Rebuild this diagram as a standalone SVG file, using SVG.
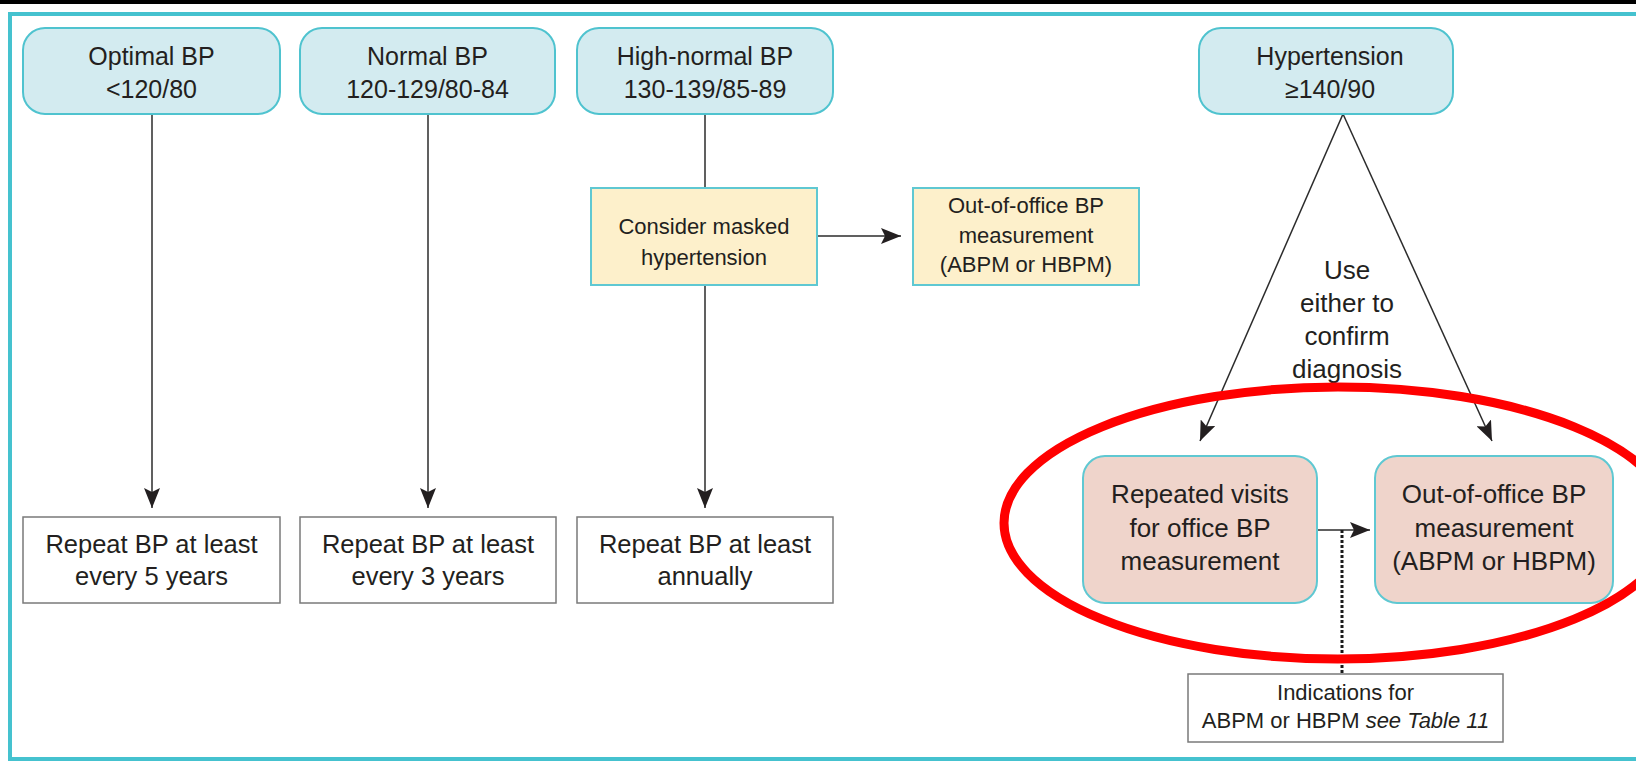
<svg xmlns="http://www.w3.org/2000/svg" width="1636" height="761" viewBox="0 0 1636 761">
<defs>
<style>
.t{font-family:"Liberation Sans",Arial,sans-serif;font-size:25px;fill:#231f20;text-anchor:middle}
.b{font-size:25.5px}
.p{font-size:26px}
.s{font-size:22px}
.xs{font-size:22px}
.blue{fill:#d3ebf0;stroke:#4fc3cf;stroke-width:2}
.yel{fill:#fdf0cb;stroke:#5fc8d2;stroke-width:2}
.pink{fill:#efd4cb;stroke:#5fc8d2;stroke-width:2}
.plain{fill:#ffffff;stroke:#7a7a7a;stroke-width:1.5}
.ln{stroke:#2b2b2b;stroke-width:1.5;fill:none}
</style>
<marker id="ah" viewBox="0 0 20 16" refX="20" refY="8" markerWidth="20" markerHeight="16" markerUnits="userSpaceOnUse" orient="auto">
<path d="M0,0 L20,8 L0,16 L4,8 Z" fill="#231f20"/>
</marker>
</defs>
<rect width="1636" height="761" fill="#ffffff"/>
<rect x="0" y="0" width="1636" height="4" fill="#000000"/>
<rect x="10" y="14" width="1700" height="745" fill="none" stroke="#45c2cf" stroke-width="4"/>

<g id="connectors">
<line class="ln" x1="152" y1="114" x2="152" y2="508" marker-end="url(#ah)"/>
<line class="ln" x1="428" y1="114" x2="428" y2="508" marker-end="url(#ah)"/>
<line class="ln" x1="705" y1="114" x2="705" y2="188"/>
<line class="ln" x1="705" y1="285" x2="705" y2="508" marker-end="url(#ah)"/>
<line class="ln" x1="817" y1="236" x2="901" y2="236" marker-end="url(#ah)"/>
<line class="ln" x1="1343" y1="114" x2="1200" y2="441" marker-end="url(#ah)"/>
<line class="ln" x1="1343" y1="114" x2="1492" y2="441" marker-end="url(#ah)"/>
<line class="ln" x1="1317" y1="530" x2="1370" y2="530" marker-end="url(#ah)"/>
<line x1="1342" y1="530" x2="1342" y2="674" stroke="#1a1a1a" stroke-width="3" stroke-dasharray="3 2"/>
</g>

<g id="n-optimal">
<rect class="blue" x="23" y="28" width="257" height="86" rx="22"/>
<text class="t" x="151.5" y="65">Optimal BP</text>
<text class="t" x="151.5" y="98">&lt;120/80</text>
</g>
<g id="n-normal">
<rect class="blue" x="300" y="28" width="255" height="86" rx="22"/>
<text class="t" x="427.5" y="65">Normal BP</text>
<text class="t" x="427.5" y="98">120-129/80-84</text>
</g>
<g id="n-highnormal">
<rect class="blue" x="577" y="28" width="256" height="86" rx="22"/>
<text class="t" x="705" y="65">High-normal BP</text>
<text class="t" x="705" y="98">130-139/85-89</text>
</g>
<g id="n-hypertension">
<rect class="blue" x="1199" y="28" width="254" height="86" rx="22"/>
<text class="t" x="1330" y="65">Hypertension</text>
<text class="t" x="1330" y="98">≥140/90</text>
</g>

<g id="n-masked">
<rect class="yel" x="591" y="188" width="226" height="97"/>
<text class="t s" x="704" y="234">Consider masked</text>
<text class="t s" x="704" y="265">hypertension</text>
</g>
<g id="n-outoffice1">
<rect class="yel" x="913" y="188" width="226" height="97"/>
<text class="t s" x="1026" y="213">Out-of-office BP</text>
<text class="t s" x="1026" y="243">measurement</text>
<text class="t s" x="1026" y="272">(ABPM or HBPM)</text>
</g>

<g id="n-repeat5">
<rect class="plain" x="23" y="517" width="257" height="86"/>
<text class="t b" x="151.5" y="553">Repeat BP at least</text>
<text class="t b" x="151.5" y="585">every 5 years</text>
</g>
<g id="n-repeat3">
<rect class="plain" x="300" y="517" width="256" height="86"/>
<text class="t b" x="428" y="553">Repeat BP at least</text>
<text class="t b" x="428" y="585">every 3 years</text>
</g>
<g id="n-repeat1">
<rect class="plain" x="577" y="517" width="256" height="86"/>
<text class="t b" x="705" y="553">Repeat BP at least</text>
<text class="t b" x="705" y="585">annually</text>
</g>

<g id="n-use-label">
<text class="t p" x="1347" y="279">Use</text>
<text class="t p" x="1347" y="312">either to</text>
<text class="t p" x="1347" y="345">confirm</text>
<text class="t p" x="1347" y="378">diagnosis</text>
</g>

<g id="n-repeated-visits">
<rect class="pink" x="1083" y="456" width="234" height="147" rx="22"/>
<text class="t p" x="1200" y="503">Repeated visits</text>
<text class="t p" x="1200" y="537">for office BP</text>
<text class="t p" x="1200" y="570">measurement</text>
</g>
<g id="n-outoffice2">
<rect class="pink" x="1375" y="456" width="238" height="147" rx="22"/>
<text class="t p" x="1494" y="503">Out-of-office BP</text>
<text class="t p" x="1494" y="537">measurement</text>
<text class="t p" x="1494" y="570">(ABPM or HBPM)</text>
</g>

<g id="n-indications">
<rect class="plain" x="1188" y="674" width="315" height="68"/>
<text class="t xs" x="1345.5" y="700">Indications for</text>
<text class="t xs" x="1345.5" y="728">ABPM or HBPM <tspan font-style="italic">see Table 11</tspan></text>
</g>

<ellipse id="highlight" cx="1338" cy="523" rx="334" ry="136" fill="none" stroke="#ff0000" stroke-width="9"/>
</svg>
